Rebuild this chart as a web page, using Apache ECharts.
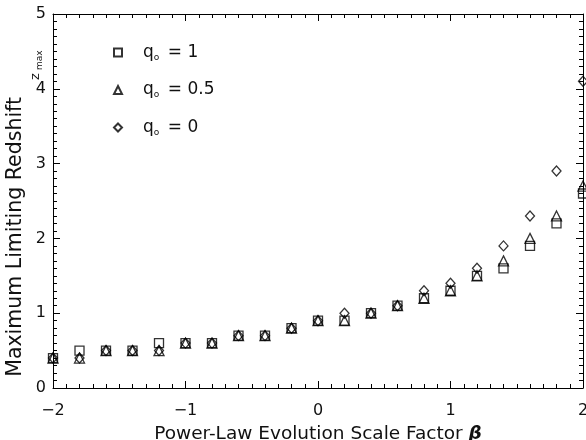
<!DOCTYPE html>
<html>
<head>
<meta charset="utf-8">
<script src="https://cdn.jsdelivr.net/npm/echarts@6/dist/echarts.min.js"></script>
<style>
  html, body { margin: 0; padding: 0; background: #fff; }
  #chart { width: 586px; height: 440px; }
</style>
</head>
<body>
<div id="chart"></div>
<script>
// beta values (x) and z_max for each q0
const beta = [-2, -1.8, -1.6, -1.4, -1.2, -1.0, -0.8, -0.6, -0.4, -0.2, 0, 0.2, 0.4, 0.6, 0.8, 1.0, 1.2, 1.4, 1.6, 1.8, 2.0]
const zQ1 = [0.4, 0.5, 0.5, 0.5, 0.6, 0.6, 0.6, 0.7, 0.7, 0.8, 0.9, 0.9, 1.0, 1.1, 1.2, 1.3, 1.5, 1.6, 1.9, 2.2, 2.6]
const zQ05 = [0.4, 0.4, 0.5, 0.5, 0.5, 0.6, 0.6, 0.7, 0.7, 0.8, 0.9, 0.9, 1.0, 1.1, 1.2, 1.3, 1.5, 1.7, 2.0, 2.3, 2.7]
const zQ0 = [0.4, 0.4, 0.5, 0.5, 0.5, 0.6, 0.6, 0.7, 0.7, 0.8, 0.9, 1.0, 1.0, 1.1, 1.3, 1.4, 1.6, 1.9, 2.3, 2.9, 4.1]
const seriesNames = ['q1', 'q05', 'q0']
const legendLabels = { q1: '1', q05: '0.5', q0: '0' }

const FONT = 'DejaVu Sans'
const INK = '#111'
const LINE = '#000'

const chart = echarts.init(document.getElementById('chart'), null, { renderer: 'canvas' })

const minus = v => String(v).replace('-', '\u2212')

function axisBase(extra) {
  return Object.assign({
    type: 'value',
    axisLine: { show: true, onZero: false, lineStyle: { color: LINE, width: 1 } },
    axisTick: { show: true, inside: true, length: 7, lineStyle: { color: LINE, width: 1 } },
    minorTick: { show: true, splitNumber: 10, length: 4, lineStyle: { color: LINE, width: 1 } },
    splitLine: { show: false },
    axisLabel: { show: false }
  }, extra)
}

const pts = arr => beta.map((b, i) => [b, arr[i]])

function scatter(name, data, symbol, size) {
  return {
    name: name,
    type: 'scatter',
    data: pts(data),
    symbol: symbol,
    symbolSize: size,
    itemStyle: { color: 'rgba(0,0,0,0)', borderColor: LINE, borderWidth: 1.3 },
    emphasis: { disabled: true },
    clip: false
  }
}

const option = {
  animation: false,
  backgroundColor: '#fff',
  grid: { left: 53, right: 3, top: 14, bottom: 52, outerBoundsMode: 'none', containLabel: false },
  xAxis: [
    axisBase({
      min: -2, max: 2, interval: 1,
      axisLabel: { show: true, margin: 15, color: INK, fontFamily: FONT, fontSize: 16, formatter: minus },
      name: 'Power-Law Evolution Scale Factor {b|β}',
      nameLocation: 'middle',
      nameGap: 37,
      nameTextStyle: {
        color: INK, fontFamily: FONT, fontSize: 18.5,
        rich: { b: { fontFamily: FONT, fontSize: 18.5, fontStyle: 'italic', fontWeight: 'bold', color: INK } }
      }
    }),
    axisBase({ min: -2, max: 2, interval: 1, position: 'top' })
  ],
  yAxis: [
    axisBase({
      min: 0, max: 5, interval: 1,
      axisLabel: { show: true, margin: 7, color: INK, fontFamily: FONT, fontSize: 16 }
    }),
    axisBase({ min: 0, max: 5, interval: 1, position: 'right' })
  ],
  legend: {
    orient: 'vertical',
    left: 108,
    top: 39,
    itemWidth: 8,
    itemHeight: 8,
    itemGap: 19.5,
    data: seriesNames,
    formatter: n => '{q|q}{s|o}{e|\u2002= ' + legendLabels[n] + '}',
    textStyle: {
      color: INK, fontFamily: FONT, fontSize: 17, padding: [0, 0, 0, 16],
      rich: {
        q: { fontFamily: FONT, fontSize: 17, color: INK },
        s: { fontFamily: FONT, fontSize: 9, color: INK, padding: [10, 0, 0, 0] },
        e: { fontFamily: FONT, fontSize: 17, color: INK }
      }
    }
  },
  graphic: [
    {
      type: 'text', x: 16, y: 97, rotation: Math.PI / 2,
      style: { text: 'Maximum Limiting Redshift', fill: INK, font: '20.5px "DejaVu Sans"', align: 'right', verticalAlign: 'middle' }
    },
    {
      type: 'text', x: 36, y: 80, rotation: Math.PI / 2,
      style: { text: 'z', fill: INK, font: '13px "DejaVu Sans"', align: 'left', verticalAlign: 'middle' }
    },
    {
      type: 'text', x: 40, y: 70, rotation: Math.PI / 2,
      style: { text: 'max', fill: INK, font: '9px "DejaVu Sans"', align: 'left', verticalAlign: 'middle' }
    }
  ],
  series: [
    scatter('q1', zQ1, 'rect', 9),
    scatter('q05', zQ05, 'triangle', [10, 10]),
    scatter('q0', zQ0, 'diamond', [9, 10])
  ]
}

chart.setOption(option)
</script>
</body>
</html>
